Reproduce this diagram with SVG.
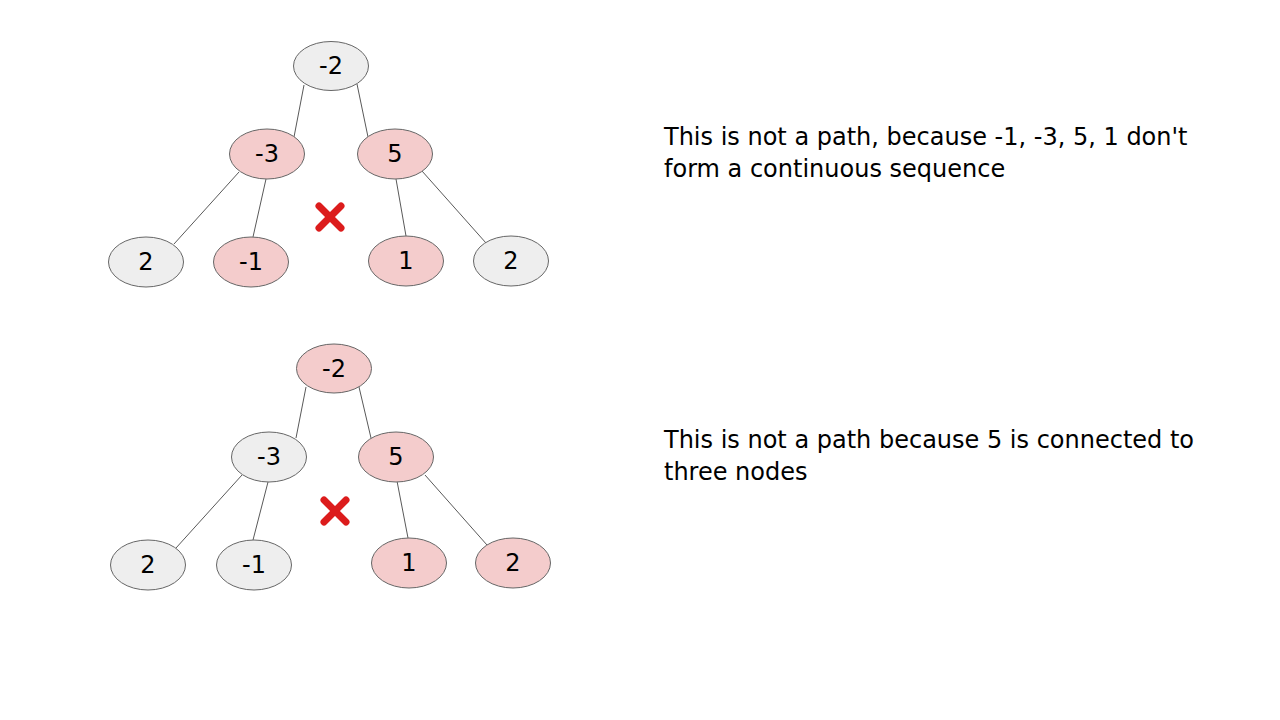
<svg xmlns="http://www.w3.org/2000/svg" width="1280" height="720" viewBox="0 0 1280 720">
<style>
.g{fill:#eeeeee;stroke:#666666;stroke-width:1}
.p{fill:#f4cccc;stroke:#666666;stroke-width:1}
.t{font-family:"DejaVu Sans","Liberation Sans",sans-serif;font-size:24px;fill:#000;text-anchor:middle;dominant-baseline:central}
.d{font-family:"DejaVu Sans","Liberation Sans",sans-serif;font-size:24px;fill:#000}
.e{stroke:#595959;stroke-width:1;fill:none}
.x{stroke:#dc1c1c;stroke-width:7;stroke-linecap:round}
</style>
<rect width="1280" height="720" fill="#ffffff"/>
<g id="connectors">
<line class="e" x1="304" y1="85" x2="294" y2="137"/>
<line class="e" x1="357" y1="84" x2="368" y2="137"/>
<line class="e" x1="239" y1="172" x2="174" y2="244"/>
<line class="e" x1="266" y1="179" x2="253" y2="237"/>
<line class="e" x1="396" y1="179" x2="406" y2="236"/>
<line class="e" x1="422" y1="171" x2="486" y2="243"/>
<line class="e" x1="306" y1="387" x2="296" y2="438"/>
<line class="e" x1="359" y1="387" x2="371" y2="438"/>
<line class="e" x1="242" y1="475" x2="176" y2="548"/>
<line class="e" x1="268" y1="482" x2="253" y2="540"/>
<line class="e" x1="397" y1="481" x2="408" y2="538"/>
<line class="e" x1="425" y1="475" x2="487" y2="545"/>
</g>
<g id="t1-root"><ellipse class="g" cx="331" cy="66" rx="37.5" ry="24.5"/><text class="t" x="331" y="66">-2</text></g>
<g id="t1-m3"><ellipse class="p" cx="267" cy="154" rx="37.5" ry="25"/><text class="t" x="267" y="154">-3</text></g>
<g id="t1-5"><ellipse class="p" cx="395" cy="154" rx="37.5" ry="25"/><text class="t" x="395" y="154">5</text></g>
<g id="t1-2a"><ellipse class="g" cx="146" cy="262" rx="37.5" ry="25"/><text class="t" x="146" y="262">2</text></g>
<g id="t1-m1"><ellipse class="p" cx="251" cy="262" rx="37.5" ry="25"/><text class="t" x="251" y="262">-1</text></g>
<g id="t1-1"><ellipse class="p" cx="406" cy="261" rx="37.5" ry="25"/><text class="t" x="406" y="261">1</text></g>
<g id="t1-2b"><ellipse class="g" cx="511" cy="261" rx="37.5" ry="25"/><text class="t" x="511" y="261">2</text></g>
<g id="t1-x"><line class="x" x1="319" y1="206" x2="341" y2="228"/><line class="x" x1="341" y1="206" x2="319" y2="228"/></g>
<g id="t2-root"><ellipse class="p" cx="334" cy="368.5" rx="37.5" ry="24.5"/><text class="t" x="334" y="368.5">-2</text></g>
<g id="t2-m3"><ellipse class="g" cx="269" cy="457" rx="37.5" ry="25"/><text class="t" x="269" y="457">-3</text></g>
<g id="t2-5"><ellipse class="p" cx="396" cy="457" rx="37.5" ry="25"/><text class="t" x="396" y="457">5</text></g>
<g id="t2-2a"><ellipse class="g" cx="148" cy="565" rx="37.5" ry="25"/><text class="t" x="148" y="565">2</text></g>
<g id="t2-m1"><ellipse class="g" cx="254" cy="565" rx="37.5" ry="25"/><text class="t" x="254" y="565">-1</text></g>
<g id="t2-1"><ellipse class="p" cx="409" cy="563" rx="37.5" ry="25"/><text class="t" x="409" y="563">1</text></g>
<g id="t2-2b"><ellipse class="p" cx="513" cy="563" rx="37.5" ry="25"/><text class="t" x="513" y="563">2</text></g>
<g id="t2-x"><line class="x" x1="324" y1="500" x2="346" y2="522"/><line class="x" x1="346" y1="500" x2="324" y2="522"/></g>
<g id="caption1"><text class="d" x="664" y="145">This is not a path, because -1, -3, 5, 1 don't</text><text class="d" x="664" y="177">form a continuous sequence</text></g>
<g id="caption2"><text class="d" x="664" y="448">This is not a path because 5 is connected to</text><text class="d" x="664" y="480">three nodes</text></g>
</svg>
